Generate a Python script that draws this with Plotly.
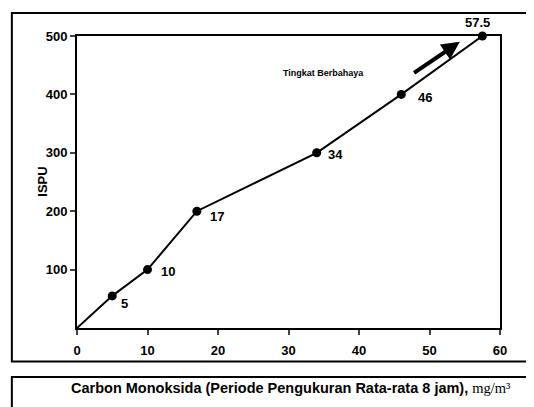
import plotly.graph_objects as go

# Data
co_values = [0, 5, 10, 17, 34, 46, 57.5]
ispu_values = [0, 55, 100, 200, 300, 400, 500]
point_labels = ["", "5", "10", "17", "34", "46", "57.5"]
x_ticks = [0, 10, 20, 30, 40, 50, 60]
y_ticks = [100, 200, 300, 400, 500]
x_title = ("Carbon Monoksida (Periode Pengukuran Rata-rata 8 jam), "
           "<span style='font-family:Liberation Serif, serif; font-weight:normal'>mg/m\u00b3</span>")
y_title = "ISPU"
note_text = "Tingkat Berbahaya"

# label offsets (pixels) per point
label_shift_x = [0, 12, 20, 20, 19, 24, -5]
label_shift_y = [0, -8, -2, -5, -2, -3, 14]

FONT = "Liberation Sans, Arial, Helvetica, sans-serif"

fig = go.Figure()
fig.add_trace(go.Scatter(
    x=co_values, y=ispu_values, mode="lines",
    line=dict(color="black", width=2), cliponaxis=False, hoverinfo="skip"))
fig.add_trace(go.Scatter(
    x=co_values[1:], y=ispu_values[1:], mode="markers",
    marker=dict(color="black", size=9), cliponaxis=False))

annotations = []
for xv, yv, lab, sx, sy in zip(co_values, ispu_values, point_labels, label_shift_x, label_shift_y):
    if not lab:
        continue
    annotations.append(dict(x=xv, y=yv, xref="x", yref="y", text=lab, showarrow=False,
                            xshift=sx, yshift=sy,
                            font=dict(family=FONT, size=13, color="black", weight="bold")))

# note text and arrow
annotations.append(dict(x=0.582, y=0.897, xref="paper", yref="paper", text=note_text,
                        showarrow=False, font=dict(family=FONT, size=9, color="black", weight="bold")))
annotations.append(dict(x=54.3, y=490, ax=47.6, ay=435, xref="x", yref="y", axref="x", ayref="y",
                        text="", showarrow=True, arrowhead=2, arrowsize=0.9, arrowwidth=4,
                        arrowcolor="black"))
# y title
annotations.append(dict(x=-0.106, y=0.5, xref="paper", yref="paper", text=y_title, textangle=-90,
                        showarrow=False, font=dict(family=FONT, size=13, color="black", weight="bold")))
# x title in lower box
annotations.append(dict(x=0.506, y=-0.24, xref="paper", yref="paper", text=x_title,
                        showarrow=False, font=dict(family=FONT, size=14.5, color="black", weight="bold")))

shapes = [
    # outer frame around chart
    dict(type="rect", xref="paper", yref="paper", x0=-0.154, x1=1.1, y0=-0.115, y1=1.079,
         line=dict(color="black", width=2)),
    # lower box for x title
    dict(type="rect", xref="paper", yref="paper", x0=-0.154, x1=1.1, y0=-0.4, y1=-0.168,
         line=dict(color="black", width=2)),
]

fig.update_layout(
    width=534, height=407,
    margin=dict(l=69, r=42, t=28, b=87),
    paper_bgcolor="white", plot_bgcolor="white",
    showlegend=False,
    annotations=annotations, shapes=shapes,
    font=dict(family=FONT, color="black"),
)
fig.update_xaxes(range=[0, 60], tickvals=x_ticks, ticks="outside", ticklen=5, tickwidth=2,
                 ticklabelstandoff=4,
                 showline=True, linecolor="black", linewidth=2, mirror=True, showgrid=False,
                 zeroline=False, tickfont=dict(family=FONT, size=13, weight="bold"))
fig.update_yaxes(range=[0, 500], tickvals=y_ticks, ticks="outside", ticklen=5, tickwidth=2,
                 showline=True, linecolor="black", linewidth=2, mirror=True, showgrid=False,
                 zeroline=False, tickfont=dict(family=FONT, size=13, weight="bold"))

fig.write_html("out.html")
